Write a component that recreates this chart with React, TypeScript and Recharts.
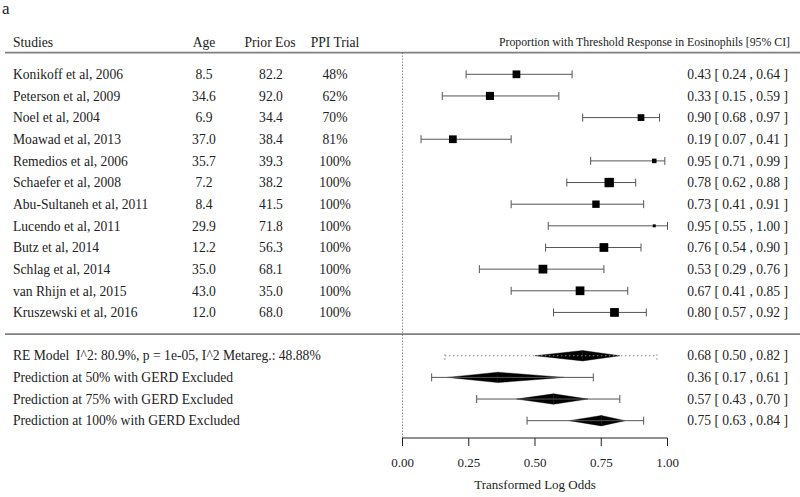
import {
  ErrorBar,
  ReferenceArea,
  ReferenceDot,
  ReferenceLine,
  Scatter,
  ScatterChart,
  XAxis,
  YAxis,
} from "recharts";

const studies = [
  "Konikoff et al, 2006",
  "Peterson et al, 2009",
  "Noel et al, 2004",
  "Moawad et al, 2013",
  "Remedios et al, 2006",
  "Schaefer et al, 2008",
  "Abu-Sultaneh et al, 2011",
  "Lucendo et al, 2011",
  "Butz et al, 2014",
  "Schlag et al, 2014",
  "van Rhijn et al, 2015",
  "Kruszewski et al, 2016",
];
const ages = ["8.5", "34.6", "6.9", "37.0", "35.7", "7.2", "8.4", "29.9", "12.2", "35.0", "43.0", "12.0"];
const priorEos = ["82.2", "92.0", "34.4", "38.4", "39.3", "38.2", "41.5", "71.8", "56.3", "68.1", "35.0", "68.0"];
const ppiTrial = ["48%", "62%", "70%", "81%", "100%", "100%", "100%", "100%", "100%", "100%", "100%", "100%"];
const estimates = [0.43, 0.33, 0.9, 0.19, 0.95, 0.78, 0.73, 0.95, 0.76, 0.53, 0.67, 0.8];
const lower = [0.24, 0.15, 0.68, 0.07, 0.71, 0.62, 0.41, 0.55, 0.54, 0.29, 0.41, 0.57];
const upper = [0.64, 0.59, 0.97, 0.41, 0.99, 0.88, 0.91, 1.0, 0.9, 0.76, 0.85, 0.92];
// relative study weights (%), drive square size
const weights = [8.6, 9.0, 7.5, 8.6, 5.0, 10.4, 8.2, 3.3, 9.7, 9.7, 9.7, 9.7];

const summaryLabels = [
  "RE Model  I^2: 80.9%, p = 1e-05, I^2 Metareg.: 48.88%",
  "Prediction at 50% with GERD Excluded",
  "Prediction at 75% with GERD Excluded",
  "Prediction at 100% with GERD Excluded",
];
const summaryEst = [0.68, 0.36, 0.57, 0.75];
const summaryLo = [0.5, 0.17, 0.43, 0.63];
const summaryHi = [0.82, 0.61, 0.7, 0.84];
const predLo = [0.16, 0.11, 0.28, 0.47];
const predHi = [0.96, 0.72, 0.82, 0.91];

const xTicks = [0, 0.25, 0.5, 0.75, 1];

const HEADER_ROW = -1.5;
const FIRST_SUMMARY_ROW = 13;
const Y_TOP = -2;
const Y_BOTTOM = 16.8;

const studyData = studies.map((name, i) => ({
  x: estimates[i],
  y: i,
  weight: weights[i],
  err: [estimates[i] - lower[i], upper[i] - estimates[i]],
}));

const summaryData = summaryLabels.map((label, i) => ({
  x: summaryEst[i],
  y: FIRST_SUMMARY_ROW + i,
  err: [summaryEst[i] - predLo[i], predHi[i] - summaryEst[i]],
}));

const rowTicks = [HEADER_ROW, ...studies.map((_, i) => i), ...summaryLabels.map((_, i) => FIRST_SUMMARY_ROW + i)];

const FONT = "Liberation Serif";
const TEXT = "#222";

const fmt = (v: number) => v.toFixed(2);
const annot = (e: number, l: number, h: number) => `${fmt(e)} [ ${fmt(l)} , ${fmt(h)} ]`;

function RowTick(props: any) {
  const { y, payload } = props;
  const v = payload.value as number;
  const common = { y, dy: "0.35em", fontSize: 13.6, fill: TEXT, style: { fontFamily: FONT } };

  if (v === HEADER_ROW) {
    return (
      <g>
        <text {...common} x={13}>Studies</text>
        <text {...common} x={204} textAnchor="middle">Age</text>
        <text {...common} x={270} textAnchor="middle">Prior Eos</text>
        <text {...common} x={335} textAnchor="middle">PPI Trial</text>
        <text {...common} x={790} fontSize={11.8} textAnchor="end">
          Proportion with Threshold Response in Eosinophils [95% CI]
        </text>
      </g>
    );
  }
  if (v < FIRST_SUMMARY_ROW) {
    const i = v;
    return (
      <g>
        <text {...common} x={13}>{studies[i]}</text>
        <text {...common} x={204} textAnchor="middle">{ages[i]}</text>
        <text {...common} x={271} textAnchor="middle">{priorEos[i]}</text>
        <text {...common} x={335} textAnchor="middle">{ppiTrial[i]}</text>
        <text {...common} x={788} textAnchor="end">{annot(estimates[i], lower[i], upper[i])}</text>
      </g>
    );
  }
  const i = v - FIRST_SUMMARY_ROW;
  return (
    <g>
      <text {...common} x={13} style={{ fontFamily: FONT, whiteSpace: "pre" }}>{summaryLabels[i]}</text>
      <text {...common} x={788} textAnchor="end">{annot(summaryEst[i], summaryLo[i], summaryHi[i])}</text>
    </g>
  );
}

function SquareShape(props: any) {
  const { cx, cy, payload } = props;
  const s = payload.weight * 0.9;
  return <rect x={cx - s / 2} y={cy - s / 2} width={s} height={s} fill="#000" />;
}

const NoShape = () => <g />;

const LeftHalf = (p: any) => (
  <polygon
    points={`${p.x},${p.y + p.height / 2} ${p.x + p.width},${p.y} ${p.x + p.width},${p.y + p.height}`}
    fill="#000"
    stroke="#000"
    strokeWidth={0.4}
  />
);
const RightHalf = (p: any) => (
  <polygon
    points={`${p.x},${p.y} ${p.x + p.width},${p.y + p.height / 2} ${p.x},${p.y + p.height}`}
    fill="#000"
    stroke="#000"
    strokeWidth={0.4}
  />
);

export default function App() {
  return (
    <div style={{ position: "absolute", left: 0, top: 0, width: 800, height: 497, background: "#fff", fontFamily: FONT }}>
      <div
        style={{
          position: "absolute",
          left: 2,
          top: 0,
          fontFamily: FONT,
          fontSize: 17,
          lineHeight: "17px",
          color: TEXT,
        }}
      >
        a
      </div>
      <ScatterChart width={800} height={497} margin={{ top: 31, right: 0, bottom: 0, left: 0 }}>
        <XAxis
          type="number"
          dataKey="x"
          domain={[-1.5, 1.5]}
          ticks={xTicks}
          tickFormatter={fmt}
          axisLine={false}
          tickSize={8}
          tickMargin={12}
          tickLine={{ stroke: "#222" }}
          tick={{ fill: TEXT, fontSize: 13, style: { fontFamily: FONT } }}
          height={59}
          interval={0}
        />
        <YAxis
          type="number"
          dataKey="y"
          domain={[Y_TOP, Y_BOTTOM]}
          reversed
          ticks={rowTicks}
          interval={0}
          width={5}
          axisLine={false}
          tickLine={false}
          tick={<RowTick />}
        />

        <ReferenceLine
          segment={[{ x: -1.5, y: -1 }, { x: 1.5, y: -1 }]}
          stroke="#808080"
          strokeWidth={1.6}
          ifOverflow="visible"
        />
        <ReferenceLine
          segment={[{ x: -1.5, y: 12 }, { x: 1.5, y: 12 }]}
          stroke="#808080"
          strokeWidth={1.6}
          ifOverflow="visible"
        />
        <ReferenceLine
          segment={[{ x: 0, y: -1 }, { x: 0, y: Y_BOTTOM }]}
          stroke="#555"
          strokeDasharray="1 2"
          ifOverflow="visible"
        />
        <ReferenceLine
          segment={[{ x: 0, y: Y_BOTTOM }, { x: 1, y: Y_BOTTOM }]}
          stroke="#222"
          ifOverflow="visible"
        />
        <ReferenceDot
          x={0.5}
          y={Y_BOTTOM}
          r={0}
          ifOverflow="visible"
          label={{
            value: "Transformed Log Odds",
            position: "bottom",
            offset: 42,
            fill: TEXT,
            fontSize: 13,
            style: { fontFamily: FONT },
          }}
        />

        <Scatter data={studyData} shape={<SquareShape />} isAnimationActive={false}>
          <ErrorBar dataKey="err" direction="x" width={4} stroke="#555" strokeWidth={1} />
        </Scatter>
        <Scatter data={summaryData.slice(0, 1)} shape={<NoShape />} isAnimationActive={false}>
          <ErrorBar dataKey="err" direction="x" width={4} stroke="#888" strokeWidth={1} strokeDasharray="1.5 2.5" />
        </Scatter>
        <Scatter data={summaryData.slice(1)} shape={<NoShape />} isAnimationActive={false}>
          <ErrorBar dataKey="err" direction="x" width={4} stroke="#555" strokeWidth={1} />
        </Scatter>

        {summaryLabels.map((_, i) => (
          <ReferenceArea
            key={`l${i}`}
            x1={summaryLo[i]}
            x2={summaryEst[i]}
            y1={FIRST_SUMMARY_ROW + i - 0.24}
            y2={FIRST_SUMMARY_ROW + i + 0.24}
            shape={LeftHalf}
            ifOverflow="visible"
          />
        ))}
        {summaryLabels.map((_, i) => (
          <ReferenceArea
            key={`r${i}`}
            x1={summaryEst[i]}
            x2={summaryHi[i]}
            y1={FIRST_SUMMARY_ROW + i - 0.24}
            y2={FIRST_SUMMARY_ROW + i + 0.24}
            shape={RightHalf}
            ifOverflow="visible"
          />
        ))}
      </ScatterChart>
    </div>
  );
}
